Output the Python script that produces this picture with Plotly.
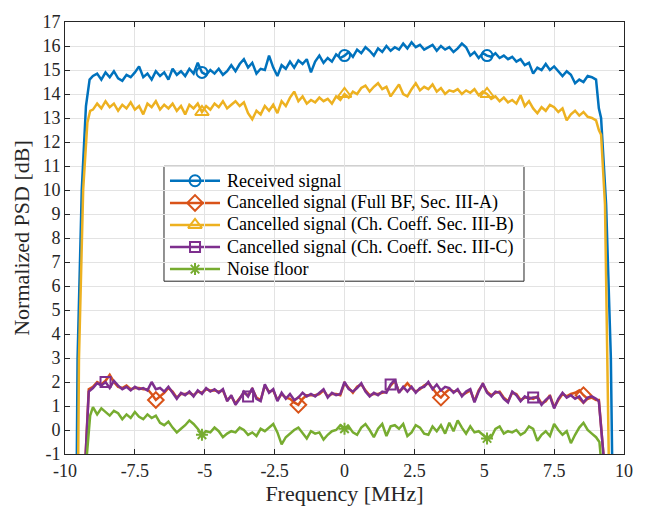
import numpy as np
import plotly.graph_objects as go

# frequency grid of the plateau region [MHz]
freq = [round(-9.0 + 0.15 * i, 2) for i in range(121)]

received = [
    14.75, 14.85, 14.6, 14.9, 14.7, 14.95, 14.65, 14.55, 14.8, 14.7,
    14.9, 15.15, 14.7, 14.85, 14.6, 14.95, 14.75, 14.9, 14.6, 15.05,
    14.8, 14.95, 14.75, 15.05, 14.85, 15.3, 14.9, 14.8, 15.0, 14.85,
    15.05, 14.8, 14.95, 15.2, 14.95, 15.25, 15.45, 15.1, 15.3, 14.85,
    15.05, 15.0, 15.6, 15.1, 14.75, 15.2, 15.05, 15.35, 15.1, 15.4,
    15.25, 15.45, 14.9, 15.35, 15.6, 15.3, 15.5, 15.35, 15.65, 15.5,
    15.6, 15.75, 15.55, 15.85, 15.7, 15.95, 15.8, 15.6, 15.9, 15.75,
    16.0, 15.8, 15.95, 15.85, 16.1, 15.9, 16.15, 15.95, 16.05, 15.85,
    15.95, 16.05, 15.8, 16.0, 15.85, 15.95, 15.75, 15.9, 16.1, 15.95,
    15.6, 15.75, 15.5, 15.7, 15.6, 15.55, 15.7, 15.5, 15.6, 15.45,
    15.55, 15.35, 15.45, 15.2, 15.3, 14.85, 15.1, 15.0, 15.25, 15.0,
    15.15, 14.95, 14.75, 14.95, 14.8, 14.45, 14.6, 14.5, 14.75, 14.7,
    14.6]
received_left_x = [-9.58, -9.55, -9.4, -9.25, -9.12]
received_left_y = [-1.5, 3.0, 10.0, 13.5, 14.6]
received_right_x = [9.1, 9.18, 9.36, 9.53, 9.58]
received_right_y = [13.4, 13.0, 9.4, 3.0, -1.5]

full_bf = [
    1.8, 2.0, 1.9, 2.05, 2.3, 2.0, 1.8, 1.75, 1.85, 1.7,
    1.75, 1.75, 1.7, 1.7, 1.5, 1.25, 1.4, 1.55, 1.75, 1.6,
    1.35, 1.5, 1.5, 1.55, 1.45, 1.6, 1.55, 1.7, 1.65, 1.65,
    1.6, 1.65, 1.25, 1.4, 1.1, 1.35, 1.55, 1.45, 1.7, 1.35,
    1.25, 1.85, 1.6, 1.65, 1.25, 1.5, 1.35, 1.3, 1.15, 1.05,
    1.3, 1.45, 1.45, 1.45, 1.5, 1.65, 1.4, 1.5, 1.5, 1.45,
    1.95, 1.75, 1.55, 1.8, 1.9, 1.65, 1.45, 1.5, 1.5, 1.55,
    1.6, 1.85, 2.05, 1.6, 1.75, 1.95, 1.75, 1.6, 1.7, 1.85,
    1.95, 1.75, 1.5, 1.35, 1.55, 1.7, 1.6, 1.65, 1.45, 1.55,
    1.65, 1.2, 1.65, 1.9, 1.6, 1.45, 1.55, 1.6, 1.35, 1.2,
    1.55, 1.5, 1.25, 1.35, 1.35, 1.3, 1.4, 1.1, 1.2, 1.45,
    0.95, 1.25, 1.5, 1.4, 1.5, 1.55, 1.65, 1.45, 1.3, 1.35,
    1.25]
full_bf_left_x = [-9.28, -9.15]
full_bf_left_y = [-1.5, 1.7]
full_bf_right_x = [9.1, 9.3]
full_bf_right_y = [1.25, -1.5]

coeff_b = [
    13.35, 13.6, 13.4, 13.7, 13.45, 13.6, 13.3, 13.55, 13.4, 13.65,
    13.35, 13.5, 13.15, 13.6, 13.45, 13.7, 13.35, 13.55, 13.4, 13.6,
    13.3, 13.5, 13.15, 13.55, 13.4, 13.6, 13.25, 13.5, 13.35, 13.6,
    13.45, 13.7, 13.4, 13.55, 13.7, 13.5, 13.65, 13.2, 12.95, 13.3,
    13.15, 13.5, 13.3, 13.55, 13.2, 13.7, 13.5, 13.85, 14.1, 13.7,
    13.9, 13.6, 13.75, 13.65, 13.85, 13.7, 13.8, 13.6, 13.9, 13.75,
    14.0, 13.85, 14.1, 14.0, 14.25, 14.35, 14.1, 14.3, 14.45, 14.2,
    14.3, 13.9, 14.15, 14.4, 14.0, 13.9, 14.2, 14.45, 14.15, 14.3,
    14.2, 14.4, 14.1, 14.25, 14.0, 14.15, 14.1, 14.2, 14.0, 14.15,
    14.05, 14.2, 13.95, 14.1, 14.0, 13.8, 13.9, 13.7, 13.85, 13.65,
    13.75, 13.6, 13.95, 13.5, 13.7, 13.4, 13.2, 13.45, 13.3, 13.55,
    13.45, 13.25, 13.4, 12.9, 13.15, 13.3, 13.1, 13.25, 13.05, 13.0,
    12.9]
coeff_b_left_x = [-9.53, -9.5, -9.35, -9.2, -9.1]
coeff_b_left_y = [-1.5, 3.0, 10.0, 12.8, 13.3]
coeff_b_right_x = [9.1, 9.18, 9.32, 9.46]
coeff_b_right_y = [12.5, 12.3, 9.4, -1.5]

coeff_c = [
    1.75, 1.95, 1.85, 2.0, 1.75, 2.05, 1.85, 1.7, 1.8, 1.65,
    1.8, 1.7, 1.75, 1.65, 2.0, 1.7, 1.75, 1.6, 1.8, 1.55,
    1.3, 1.55, 1.45, 1.6, 1.4, 1.65, 1.5, 1.75, 1.6, 1.7,
    1.55, 1.7, 1.2, 1.45, 1.05, 1.3, 1.6, 1.4, 1.75, 1.3,
    1.2, 1.9, 1.55, 1.7, 1.2, 1.55, 1.3, 1.5, 1.25, 1.35,
    1.55, 1.4, 1.5, 1.4, 1.55, 1.7, 1.35, 1.55, 1.45, 1.5,
    2.0, 1.7, 1.6, 1.75, 1.95, 1.6, 1.4, 1.55, 1.45, 1.6,
    1.55, 1.9, 2.1, 1.55, 1.8, 1.6, 1.8, 1.55, 1.75, 1.8,
    2.0, 1.7, 1.9, 1.65, 1.8, 1.75, 1.55, 1.7, 1.4, 1.6,
    1.7, 1.15, 1.6, 1.95, 1.55, 1.4, 1.6, 1.55, 1.3, 1.15,
    1.6, 1.45, 1.2, 1.4, 1.3, 1.35, 1.35, 1.05, 1.25, 1.4,
    0.9, 1.3, 1.55, 1.35, 1.45, 1.3, 1.4, 1.15, 1.35, 1.4,
    1.3]
coeff_c_left_x = [-9.28, -9.15]
coeff_c_left_y = [-1.5, 1.6]
coeff_c_right_x = [9.1, 9.3]
coeff_c_right_y = [1.2, -1.5]

noise = [
    0.95, 0.65, 0.9, 0.75, 0.6, 0.8, 0.7, 0.45, 0.65, 0.5,
    0.75, 0.55, 0.45, 0.65, 0.5, 0.6, 0.3, 0.2, 0.35, 0.1,
    -0.1, 0.05, 0.2, 0.4, 0.25, 0.05, -0.2, -0.05, -0.1, 0.1,
    -0.05, -0.3, -0.15, -0.05, -0.1, 0.1, 0.0, -0.2, -0.1, -0.25,
    0.05, -0.05, 0.1, 0.25, -0.1, -0.6, -0.3, -0.15, 0.0, 0.1,
    -0.15, -0.35, -0.05, -0.15, -0.1, -0.4, -0.2, -0.05, 0.0, 0.2,
    0.05, 0.15, -0.1, -0.2, 0.1, 0.25, 0.0, -0.3, 0.05, 0.25,
    -0.25, 0.15, 0.2, 0.05, 0.25, -0.25, -0.1, 0.2, 0.1, -0.15,
    -0.2, 0.15, -0.05, 0.2, -0.15, 0.3, -0.05, 0.4, 0.1, -0.15,
    0.15, -0.1, -0.05, -0.2, -0.35, -0.3, 0.05, 0.15, -0.15, -0.05,
    -0.1, 0.0, -0.2, -0.1, 0.15, 0.05, -0.45, -0.2, -0.05, -0.25,
    0.25, 0.0, -0.2, -0.05, -0.55, -0.2, 0.1, 0.3, 0.0, -0.15,
    -0.3]
noise_left_x = [-9.25, -9.1]
noise_left_y = [-1.5, 0.6]
noise_right_x = [9.12, 9.2]
noise_right_y = [-0.5, -1.5]

# marker sample indices (into freq grid)
received_mk = [26, 60, 94]
full_bf_mk = [15, 49, 83, 117]
coeff_b_mk = [26, 60, 94]
coeff_c_mk = [3, 37, 71, 105]
noise_mk = [26, 60, 94]

names = ["Received signal",
         "Cancelled signal (Full BF, Sec. III-A)",
         "Cancelled signal (Ch. Coeff. Sec. III-B)",
         "Cancelled signal (Ch. Coeff. Sec. III-C)",
         "Noise floor"]
colors = ["#0072BD", "#D95319", "#EDB120", "#7E2F8E", "#77AC30"]
symbols = ["circle-open", "diamond-open", "triangle-up-open", "square-open", "asterisk-open"]
msizes = [11, 12, 12, 10, 10]

x_ticks = [-10, -7.5, -5, -2.5, 0, 2.5, 5, 7.5, 10]
x_ticktext = ["-10", "-7.5", "-5", "-2.5", "0", "2.5", "5", "7.5", "10"]
y_ticks = list(range(-1, 18))
y_ticktext = [str(v) for v in y_ticks]

series = [
    (received, received_left_x, received_left_y, received_right_x, received_right_y, received_mk),
    (full_bf, full_bf_left_x, full_bf_left_y, full_bf_right_x, full_bf_right_y, full_bf_mk),
    (coeff_b, coeff_b_left_x, coeff_b_left_y, coeff_b_right_x, coeff_b_right_y, coeff_b_mk),
    (coeff_c, coeff_c_left_x, coeff_c_left_y, coeff_c_right_x, coeff_c_right_y, coeff_c_mk),
    (noise, noise_left_x, noise_left_y, noise_right_x, noise_right_y, noise_mk),
]

font_family = "Liberation Serif, Times New Roman, serif"

fig = go.Figure()
for k, (vals, lx, ly, rx, ry, mk) in enumerate(series):
    xs = lx + freq + rx
    ys = ly + vals + ry
    fig.add_trace(go.Scatter(x=xs, y=ys, mode="lines", showlegend=False,
                             line=dict(color=colors[k], width=2.5), hoverinfo="skip"))
    fig.add_trace(go.Scatter(x=[freq[i] for i in mk], y=[vals[i] for i in mk], mode="markers",
                             showlegend=False,
                             marker=dict(symbol=symbols[k], size=msizes[k], color=colors[k],
                                         line=dict(color=colors[k], width=2))))

# ---- legend box (MATLAB style), drawn in plot-area fractions ----
leg_x0, leg_x1, leg_y0, leg_y1 = 0.1771, 0.8211, 0.400, 0.666
leg_line_x0, leg_line_x1, leg_mark_x, leg_text_x = 0.1878, 0.2773, 0.2326, 0.2862
leg_row_y = [0.6325, 0.5811, 0.5302, 0.4789, 0.4280]

shapes = [dict(type="rect", xref="paper", yref="paper", x0=leg_x0, x1=leg_x1, y0=leg_y0, y1=leg_y1,
               fillcolor="white", line=dict(color="#262626", width=1), layer="between")]
annotations = []
for k in range(5):
    shapes.append(dict(type="line", xref="paper", yref="paper", x0=leg_line_x0, x1=leg_line_x1,
                       y0=leg_row_y[k], y1=leg_row_y[k], line=dict(color=colors[k], width=2.5),
                       layer="between"))
    fig.add_trace(go.Scatter(x=[leg_mark_x], y=[leg_row_y[k]], xaxis="x2", yaxis="y2",
                             mode="markers", showlegend=False, hoverinfo="skip",
                             marker=dict(symbol=symbols[k], size=msizes[k], color=colors[k],
                                         line=dict(color=colors[k], width=2))))
    annotations.append(dict(text=names[k], xref="paper", yref="paper", x=leg_text_x, y=leg_row_y[k],
                            xanchor="left", yanchor="middle", showarrow=False,
                            font=dict(family=font_family, size=18, color="black")))

axis_common = dict(showline=True, linecolor="#262626", linewidth=1, mirror="ticks",
                   ticks="inside", ticklen=5, tickcolor="#262626",
                   showgrid=True, gridcolor="#e3e3e3", gridwidth=1, zeroline=False,
                   tickfont=dict(family=font_family, size=18, color="#262626"))

fig.update_layout(
    width=646, height=514,
    margin=dict(l=65, r=22, t=14, b=60),
    paper_bgcolor="white", plot_bgcolor="white",
    font=dict(family=font_family, color="#262626"),
    showlegend=False,
    xaxis=dict(range=[-10, 10], tickvals=x_ticks, ticktext=x_ticktext,
               title=dict(text="Frequency [MHz]", font=dict(family=font_family, size=22), standoff=6),
               **axis_common),
    yaxis=dict(range=[-1, 17], tickvals=y_ticks, ticktext=y_ticktext,
               title=dict(text="Normalized PSD [dB]", font=dict(family=font_family, size=22), standoff=6),
               **axis_common),
    xaxis2=dict(overlaying="x", range=[0, 1], visible=False),
    yaxis2=dict(overlaying="y", range=[0, 1], visible=False),
    shapes=shapes,
    annotations=annotations,
)

fig.write_html("out.html")
